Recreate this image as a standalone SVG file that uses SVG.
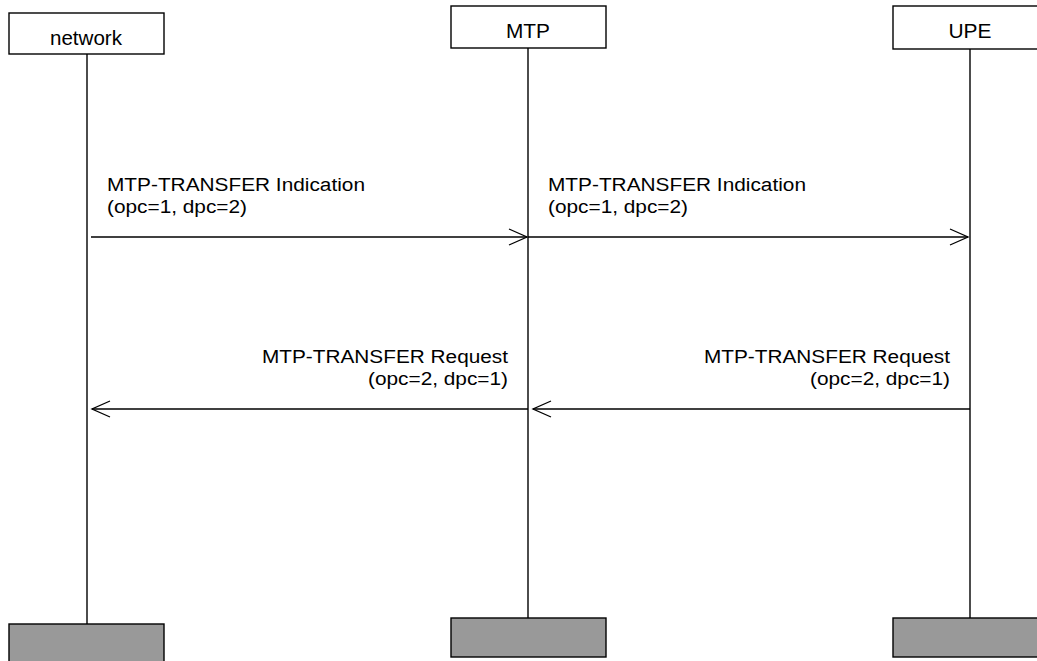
<svg xmlns="http://www.w3.org/2000/svg" width="1037" height="661" viewBox="0 0 1037 661">
<style>
.box{fill:#fff;stroke:#000;stroke-width:1.4}
.end{fill:#999;stroke:#000;stroke-width:1.4}
.life{stroke:#000;stroke-width:1.4}
.msg{stroke:#000;stroke-width:1.3;fill:none}
text{font-family:"Liberation Sans",Arial,sans-serif;font-size:18px;fill:#000}
.lbl{font-size:20px}
.c{text-anchor:middle}
.r{text-anchor:end}
</style>
<g id="network">
<rect class="box" x="9" y="13" width="155" height="41"/>
<text class="c lbl" x="86" y="45" textLength="72" lengthAdjust="spacingAndGlyphs">network</text>
<line class="life" x1="87" y1="54" x2="87" y2="624"/>
<rect class="end" x="9" y="624" width="155" height="45"/>
</g>
<g id="MTP">
<rect class="box" x="451" y="6" width="155" height="42"/>
<text class="c lbl" x="528" y="37.5" textLength="44" lengthAdjust="spacingAndGlyphs">MTP</text>
<line class="life" x1="528" y1="48" x2="528" y2="618"/>
<rect class="end" x="451" y="618" width="155" height="39"/>
</g>
<g id="UPE">
<rect class="box" x="893" y="6" width="155" height="43"/>
<text class="c lbl" x="970" y="37.5" textLength="43" lengthAdjust="spacingAndGlyphs">UPE</text>
<line class="life" x1="970" y1="49" x2="970" y2="618"/>
<rect class="end" x="893" y="618" width="155" height="39"/>
</g>
<g id="connectors">
<line class="msg" x1="91" y1="237" x2="527" y2="237"/>
<polyline class="msg" points="509,229 527,237 509,245"/>
<text x="107" y="190.5" textLength="258" lengthAdjust="spacingAndGlyphs">MTP-TRANSFER Indication</text>
<text x="107" y="212.5" textLength="140" lengthAdjust="spacingAndGlyphs">(opc=1, dpc=2)</text>
<line class="msg" x1="528" y1="237" x2="968" y2="237"/>
<polyline class="msg" points="950,229 968,237 950,245"/>
<text x="548" y="190.5" textLength="258" lengthAdjust="spacingAndGlyphs">MTP-TRANSFER Indication</text>
<text x="548" y="212.5" textLength="140" lengthAdjust="spacingAndGlyphs">(opc=1, dpc=2)</text>
<line class="msg" x1="970" y1="409" x2="533" y2="409"/>
<polyline class="msg" points="551,401 533,409 551,417"/>
<text class="r" x="950" y="363" textLength="246" lengthAdjust="spacingAndGlyphs">MTP-TRANSFER Request</text>
<text class="r" x="950" y="385" textLength="140" lengthAdjust="spacingAndGlyphs">(opc=2, dpc=1)</text>
<line class="msg" x1="528" y1="409" x2="92" y2="409"/>
<polyline class="msg" points="110,401 92,409 110,417"/>
<text class="r" x="508" y="363" textLength="246" lengthAdjust="spacingAndGlyphs">MTP-TRANSFER Request</text>
<text class="r" x="508" y="385" textLength="140" lengthAdjust="spacingAndGlyphs">(opc=2, dpc=1)</text>
</g>
</svg>
